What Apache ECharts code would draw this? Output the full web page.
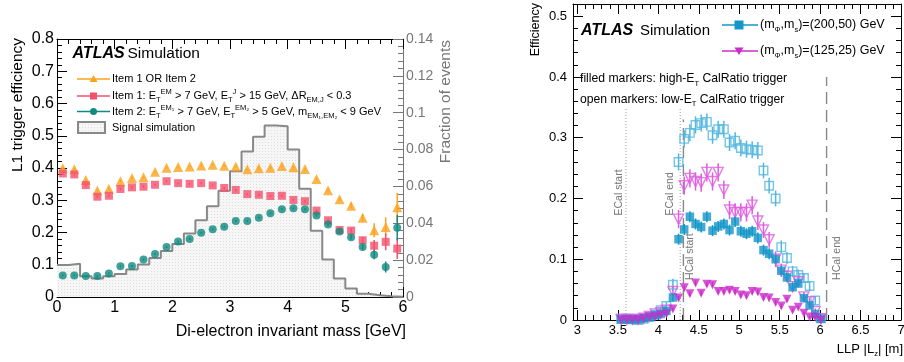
<!DOCTYPE html>
<html>
<head>
<meta charset="utf-8">
<script src="https://cdn.jsdelivr.net/npm/echarts@6.0.0/dist/echarts.min.js"></script>
<style>
  html, body { margin: 0; padding: 0; background: #fff; }
  #chart { width: 904px; height: 362px; }
</style>
</head>
<body>
<div id="chart"></div>
<script>
// ---- left panel: L1 trigger efficiency vs di-electron mass ----
const massCenters = [0.1, 0.3, 0.5, 0.7, 0.9, 1.1, 1.3, 1.5, 1.7, 1.9, 2.1, 2.3, 2.5, 2.7, 2.9,
  3.1, 3.3, 3.5, 3.7, 3.9, 4.1, 4.3, 4.5, 4.7, 4.9, 5.1, 5.3, 5.5, 5.7, 5.9]
const effOr = [0.399, 0.396, 0.363, 0.330, 0.336, 0.359, 0.369, 0.371, 0.388, 0.401, 0.403, 0.405, 0.408, 0.410, 0.407,
  0.405, 0.396, 0.399, 0.401, 0.406, 0.402, 0.397, 0.366, 0.331, 0.303, 0.283, 0.246, 0.207, 0.217, 0.278]
const effOrErr = [0.004, 0.004, 0.004, 0.004, 0.004, 0.004, 0.004, 0.004, 0.003, 0.003, 0.003, 0.003, 0.003, 0.003, 0.003,
  0.003, 0.003, 0.003, 0.003, 0.003, 0.003, 0.004, 0.004, 0.005, 0.006, 0.008, 0.012, 0.022, 0.030, 0.045]
const effItem1 = [0.383, 0.380, 0.347, 0.311, 0.314, 0.335, 0.340, 0.342, 0.348, 0.359, 0.353, 0.351, 0.353, 0.346, 0.338,
  0.332, 0.319, 0.317, 0.313, 0.314, 0.301, 0.297, 0.268, 0.238, 0.208, 0.206, 0.176, 0.159, 0.171, 0.150]
const effItem1Err = [0.004, 0.004, 0.004, 0.004, 0.004, 0.004, 0.004, 0.004, 0.003, 0.003, 0.003, 0.003, 0.003, 0.003, 0.003,
  0.003, 0.003, 0.003, 0.003, 0.003, 0.003, 0.004, 0.004, 0.005, 0.006, 0.007, 0.010, 0.018, 0.026, 0.032]
const effItem2 = [0.067, 0.067, 0.065, 0.065, 0.073, 0.095, 0.096, 0.116, 0.133, 0.155, 0.172, 0.180, 0.199, 0.210, 0.218,
  0.236, 0.236, 0.246, 0.260, 0.272, 0.275, 0.272, 0.253, 0.225, 0.203, 0.185, 0.155, 0.131, 0.093, 0.215]
const effItem2Err = [0.003, 0.003, 0.003, 0.003, 0.003, 0.003, 0.003, 0.003, 0.003, 0.003, 0.003, 0.003, 0.003, 0.003, 0.003,
  0.003, 0.003, 0.003, 0.003, 0.003, 0.003, 0.003, 0.004, 0.005, 0.006, 0.007, 0.008, 0.014, 0.017, 0.039]
const histEdges = [0, 0.2, 0.4, 0.6, 0.8, 1.0, 1.2, 1.4, 1.6, 1.8, 2.0, 2.2, 2.4, 2.6, 2.8, 3.0,
  3.2, 3.4, 3.6, 3.8, 4.0, 4.2, 4.4, 4.6, 4.8, 5.0, 5.2, 5.4, 5.6, 5.8, 6.0]
const histFraction = [0.0173, 0.0180, 0.0113, 0.0100, 0.0113, 0.0125, 0.0149, 0.0176, 0.0212, 0.0249, 0.0287, 0.0345,
  0.0417, 0.0493, 0.0577, 0.0682, 0.0789, 0.0870, 0.0930, 0.0927, 0.0800, 0.0588, 0.0359, 0.0203, 0.0100, 0.0046,
  0.0018, 0.0009, 0.0004, 0.0002]

// ---- right panel: CalRatio efficiency vs LLP |Lz| ----
const llpLz = [3.54, 3.61, 3.68, 3.75, 3.82, 3.89, 3.96, 4.03, 4.10, 4.18, 4.25, 4.32, 4.39, 4.46, 4.53, 4.60, 4.67, 4.74,
  4.81, 4.88, 4.95, 5.02, 5.09, 5.16, 5.23, 5.30, 5.37, 5.45, 5.52, 5.59, 5.66, 5.73, 5.80, 5.87, 5.94, 6.01]
const eff200High = [0.001, 0.001, 0.001, 0.001, 0.003, 0.005, 0.008, 0.010, 0.015, 0.037, 0.133, 0.149, 0.170, 0.158, 0.153,
  0.170, 0.147, 0.154, 0.158, 0.148, 0.162, 0.146, 0.142, 0.146, 0.135, 0.115, 0.109, 0.100, 0.081, 0.070, 0.054, 0.060,
  0.036, 0.024, 0.010, 0.002]
const eff200HighErr = [0.001, 0.001, 0.001, 0.001, 0.002, 0.002, 0.003, 0.003, 0.004, 0.006, 0.009, 0.009, 0.009, 0.009, 0.009,
  0.009, 0.009, 0.009, 0.009, 0.009, 0.009, 0.009, 0.009, 0.009, 0.009, 0.009, 0.009, 0.009, 0.008, 0.007, 0.007, 0.006,
  0.006, 0.005, 0.003, 0.002]
const eff200Low = [0.002, 0.002, 0.001, 0.000, 0.002, 0.005, 0.009, 0.016, 0.023, 0.058, 0.260, 0.298, 0.308, 0.321, 0.324,
  0.326, 0.304, 0.314, 0.314, 0.292, 0.295, 0.283, 0.281, 0.280, 0.279, 0.246, 0.221, 0.200, 0.120, 0.102, 0.080, 0.074,
  0.069, 0.056, 0.032, 0.003]
const eff200LowErr = [0.002, 0.002, 0.002, 0.001, 0.002, 0.003, 0.004, 0.005, 0.006, 0.010, 0.014, 0.014, 0.014, 0.014, 0.014,
  0.014, 0.014, 0.014, 0.014, 0.014, 0.014, 0.014, 0.014, 0.014, 0.014, 0.013, 0.013, 0.013, 0.011, 0.010, 0.009, 0.009,
  0.008, 0.008, 0.007, 0.003]
const eff125High = [0.000, 0.000, 0.000, 0.000, 0.002, 0.005, 0.005, 0.008, 0.010, 0.018, 0.036, 0.053, 0.043, 0.061, 0.044,
  0.059, 0.058, 0.047, 0.047, 0.049, 0.047, 0.041, 0.040, 0.047, 0.046, 0.037, 0.036, 0.029, 0.023, 0.034, 0.016, 0.021,
  0.011, 0.005, 0.004, 0.000]
const eff125HighErr = [0.000, 0.000, 0.000, 0.000, 0.001, 0.002, 0.002, 0.002, 0.003, 0.003, 0.004, 0.004, 0.004, 0.004, 0.004,
  0.004, 0.004, 0.004, 0.004, 0.004, 0.004, 0.004, 0.004, 0.004, 0.004, 0.004, 0.004, 0.004, 0.004, 0.004, 0.003, 0.003,
  0.003, 0.002, 0.002, 0.000]
const eff125Low = [0.001, 0.001, 0.001, 0.001, 0.003, 0.006, 0.010, 0.012, 0.016, 0.047, 0.166, 0.221, 0.233, 0.228, 0.226,
  0.243, 0.228, 0.243, 0.214, 0.181, 0.177, 0.177, 0.177, 0.189, 0.163, 0.148, 0.132, 0.100, 0.082, 0.072, 0.055, 0.063,
  0.038, 0.030, 0.014, 0.002]
const eff125LowErr = [0.001, 0.001, 0.001, 0.001, 0.002, 0.003, 0.004, 0.004, 0.005, 0.008, 0.015, 0.015, 0.015, 0.015, 0.015,
  0.015, 0.015, 0.015, 0.015, 0.015, 0.015, 0.015, 0.015, 0.015, 0.015, 0.013, 0.013, 0.013, 0.011, 0.010, 0.009, 0.009,
  0.008, 0.007, 0.005, 0.002]

const edgeNames = ['ECal start', 'ECal end', 'HCal start', 'HCal end']
const edgePos = [3.60, 4.27, 4.31, 6.08]
const edgeTop = [0.35, 0.35, 0.33, 0.40]
const edgeLabelAt = [0.172, 0.172, 0.066, 0.066]
const edgeLabelDx = [-7, -10, 7, 11]
const edgeDash = [[1, 2], [1, 2], [12, 6], [12, 6]]

const lzMajorTicks = [3, 3.5, 4, 4.5, 5, 5.5, 6, 6.5, 7]
const lzMinorTicks = Array.from({ length: 41 }, (_, i) => 3 + i * 0.1)

const FONT = '"Liberation Sans", Arial, Helvetica, sans-serif'
const C_OR = '#fba31e'
const C_I1 = '#f4506c'
const C_I2 = '#108a80'
const C_B = '#1496c8'
const C_BL = '#52b7e0'
const C_M = '#cc2ccc'
const C_ML = '#e05ce0'

// dotted light-grey fill used by the signal histogram
const pat = document.createElement('canvas')
pat.width = 3; pat.height = 3
const pctx = pat.getContext('2d')
pctx.fillStyle = '#f6f6f6'; pctx.fillRect(0, 0, 3, 3)
pctx.fillStyle = '#dedede'; pctx.fillRect(1, 1, 1, 1)
const dotFill = { image: pat, repeat: 'repeat' }

const fmt = v => String(Math.round(v * 1000) / 1000)

function frameAxis(extra) {
  return Object.assign({
    type: 'value',
    axisLine: { show: true, onZero: false, lineStyle: { color: '#000', width: 1 } },
    axisTick: { show: true, inside: true, length: 10, lineStyle: { color: '#000' } },
    minorTick: { show: true, splitNumber: 5, length: 5, lineStyle: { color: '#000' } },
    axisLabel: { show: false },
    splitLine: { show: false },
    minorSplitLine: { show: false },
  }, extra)
}

function errBars(xs, ys, es, color, xi, yi, width) {
  return {
    type: 'custom', xAxisIndex: xi, yAxisIndex: yi, silent: true, clip: true, z: 3,
    encode: { x: 0, y: 1 },
    data: xs.map((x, i) => [x, ys[i], es[i]]),
    renderItem: (params, api) => {
      const x = api.value(0), y = api.value(1), e = api.value(2)
      const a = api.coord([x, y - e]), b = api.coord([x, y + e])
      return { type: 'line', shape: { x1: a[0], y1: a[1], x2: b[0], y2: b[1] },
        style: { stroke: color, lineWidth: width } }
    },
  }
}

function points(xs, ys, xi, yi, symbol, size, color, open, rotate) {
  return {
    type: 'scatter', xAxisIndex: xi, yAxisIndex: yi, silent: true, z: 4,
    symbol, symbolSize: size, symbolRotate: rotate || 0,
    data: xs.map((x, i) => [x, ys[i]]),
    itemStyle: open
      ? { color: 'rgba(255,255,255,0)', borderColor: color, borderWidth: 1.4 }
      : { color: color, borderWidth: 0 },
  }
}

const sub = { fontSize: 7.5, lineHeight: 9, verticalAlign: 'bottom', fontFamily: FONT }
const sup = { fontSize: 7.5, lineHeight: 9, verticalAlign: 'top', fontFamily: FONT }

function txt(x, y, text, size, extra) {
  return { type: 'text', x, y, silent: true,
    style: Object.assign({ text, fontFamily: FONT, fontSize: size, fill: '#000',
      verticalAlign: 'middle', lineHeight: size + 5, rich: { s: sub, p: sup } }, extra) }
}

const legendLeft = [
  { y: 79, color: C_OR, sym: 'tri', text: 'Item 1 OR Item 2' },
  { y: 96, color: C_I1, sym: 'sq', text: 'Item 1: E{s|T}{p|EM} > 7 GeV, E{s|T}{p|J} > 15 GeV, ΔR{s|EM,J} < 0.3' },
  { y: 111.5, color: C_I2, sym: 'dot', text: 'Item 2: E{s|T}{p|EM₁} > 7 GeV, E{s|T}{p|EM₂} > 5 GeV, m{s|EM₁,EM₂} < 9 GeV' },
]

const graphics = []
legendLeft.forEach(l => {
  graphics.push({ type: 'line', silent: true, shape: { x1: 77, y1: l.y, x2: 110, y2: l.y }, style: { stroke: l.color, lineWidth: 1.5 } })
  if (l.sym === 'tri') graphics.push({ type: 'polygon', silent: true, shape: { points: [[93.5, l.y - 4], [89.5, l.y + 3], [97.5, l.y + 3]] }, style: { fill: l.color } })
  if (l.sym === 'sq') graphics.push({ type: 'rect', silent: true, shape: { x: 90, y: l.y - 3.5, width: 7, height: 7 }, style: { fill: l.color } })
  if (l.sym === 'dot') graphics.push({ type: 'circle', silent: true, shape: { cx: 93.5, cy: l.y, r: 3.5 }, style: { fill: l.color } })
  graphics.push(txt(112, l.y, l.text, 11))
})
graphics.push({ type: 'rect', silent: true, shape: { x: 78, y: 122, width: 27, height: 11 }, style: { fill: dotFill, stroke: '#888', lineWidth: 2 } })
graphics.push(txt(112, 127.5, 'Signal simulation', 11))
graphics.push(txt(72.5, 54, 'ATLAS', 16, { fontWeight: 'bold', fontStyle: 'italic' }))
graphics.push(txt(127.5, 54, 'Simulation', 15.5))
graphics.push(txt(18, 38, 'L1 trigger efficiency', 15.5, { align: 'right' }))
graphics[graphics.length - 1].rotation = Math.PI / 2
graphics.push(txt(446, 40, 'Fraction of events', 15.5, { align: 'right', fill: '#777' }))
graphics[graphics.length - 1].rotation = Math.PI / 2
graphics.push(txt(406, 332, 'Di-electron invariant mass [GeV]', 16, { align: 'right' }))

// right panel texts and legend
graphics.push(txt(581, 31, 'ATLAS', 16, { fontWeight: 'bold', fontStyle: 'italic' }))
graphics.push(txt(640, 31, 'Simulation', 15))
graphics.push({ type: 'line', silent: true, shape: { x1: 722, y1: 25, x2: 758, y2: 25 }, style: { stroke: C_B, lineWidth: 1.5 } })
graphics.push({ type: 'rect', silent: true, shape: { x: 734.5, y: 20.5, width: 9, height: 9 }, style: { fill: C_B } })
graphics.push(txt(760, 25, '(m{s|Φ},m{s|s})=(200,50) GeV', 12.5))
graphics.push({ type: 'line', silent: true, shape: { x1: 722, y1: 51, x2: 758, y2: 51 }, style: { stroke: C_M, lineWidth: 1.5 } })
graphics.push({ type: 'polygon', silent: true, shape: { points: [[734.5, 47.5], [743.5, 47.5], [739, 55]] }, style: { fill: C_M } })
graphics.push(txt(760, 51, '(m{s|Φ},m{s|s})=(125,25) GeV', 12.5))
graphics.push(txt(580, 79, 'filled markers: high-E{s|T} CalRatio trigger', 12.2))
graphics.push(txt(580, 99.5, 'open markers: low-E{s|T} CalRatio trigger', 12.2))
graphics.push(txt(536, 3, 'Efficiency', 12.5, { align: 'right' }))
graphics[graphics.length - 1].rotation = Math.PI / 2
graphics.push(txt(903, 349, 'LLP |L{s|z}| [m]', 13, { align: 'right' }))

const option = {
  animation: false,
  backgroundColor: '#fff',
  textStyle: { fontFamily: FONT },
  grid: [
    { left: 57, top: 39, width: 346, height: 258, containLabel: false, outerBoundsMode: 'none' },
    { left: 573, top: 4, width: 328, height: 316, containLabel: false, outerBoundsMode: 'none' },
  ],
  xAxis: [
    frameAxis({ gridIndex: 0, position: 'bottom', min: 0, max: 6, interval: 1,
      axisLabel: { show: true, fontSize: 16, color: '#000', margin: 3, fontFamily: FONT, formatter: fmt, showMinLabel: true, showMaxLabel: true } }),
    frameAxis({ gridIndex: 0, position: 'top', min: 0, max: 6, interval: 1 }),
    frameAxis({ gridIndex: 1, position: 'bottom', min: 2.945, max: 7, minorTick: { show: false },
      axisTick: { show: true, inside: true, length: 10, customValues: lzMajorTicks, lineStyle: { color: '#000' } },
      axisLabel: { show: true, fontSize: 13, color: '#000', margin: 4, fontFamily: FONT, customValues: lzMajorTicks, formatter: fmt, showMinLabel: true, showMaxLabel: true } }),
    frameAxis({ gridIndex: 1, position: 'bottom', min: 2.945, max: 7, minorTick: { show: false },
      axisLine: { show: false, onZero: false },
      axisTick: { show: true, inside: true, length: 5, customValues: lzMinorTicks, lineStyle: { color: '#000' } } }),
    frameAxis({ gridIndex: 1, position: 'top', min: 2.945, max: 7, minorTick: { show: false },
      axisTick: { show: true, inside: true, length: 10, customValues: lzMajorTicks, lineStyle: { color: '#000' } } }),
    frameAxis({ gridIndex: 1, position: 'top', min: 2.945, max: 7, minorTick: { show: false },
      axisLine: { show: false, onZero: false },
      axisTick: { show: true, inside: true, length: 5, customValues: lzMinorTicks, lineStyle: { color: '#000' } } }),
  ],
  yAxis: [
    frameAxis({ gridIndex: 0, position: 'left', min: 0, max: 0.8, interval: 0.1,
      axisLabel: { show: true, fontSize: 16, color: '#000', margin: 3, fontFamily: FONT, formatter: fmt } }),
    frameAxis({ gridIndex: 0, position: 'right', min: 0, max: 0.14, interval: 0.02,
      axisLine: { show: true, onZero: false, lineStyle: { color: '#777' } },
      axisTick: { show: true, inside: true, length: 10, lineStyle: { color: '#777' } },
      minorTick: { show: true, splitNumber: 5, length: 5, lineStyle: { color: '#777' } },
      axisLabel: { show: true, fontSize: 14, color: '#777', margin: 3, fontFamily: FONT, formatter: fmt } }),
    frameAxis({ gridIndex: 1, position: 'left', min: 0, max: 0.52, interval: 0.1,
      axisLabel: { show: true, fontSize: 13, color: '#000', margin: 6, fontFamily: FONT, formatter: fmt } }),
    frameAxis({ gridIndex: 1, position: 'right', min: 0, max: 0.52, interval: 0.1 }),
  ],
  graphic: graphics,
  series: [
    {
      type: 'line', xAxisIndex: 0, yAxisIndex: 1, step: 'end', symbol: 'none', silent: true, z: 1,
      data: histEdges.map((e, i) => [e, histFraction[Math.min(i, histFraction.length - 1)]]),
      lineStyle: { color: '#888', width: 2 },
      areaStyle: { color: dotFill, opacity: 1 },
    },
    errBars(massCenters, effOr, effOrErr, C_OR, 0, 0, 1.5),
    errBars(massCenters, effItem1, effItem1Err, C_I1, 0, 0, 1.5),
    errBars(massCenters, effItem2, effItem2Err, C_I2, 0, 0, 1.5),
    points(massCenters, effOr, 0, 0, 'triangle', 10, C_OR, false),
    points(massCenters, effItem1, 0, 0, 'rect', 8, C_I1, false),
    points(massCenters, effItem2, 0, 0, 'circle', 8, C_I2, false),
    {
      type: 'custom', xAxisIndex: 2, yAxisIndex: 2, silent: true, clip: true, z: 2,
      encode: { x: 0, y: 1 },
      data: edgePos.map((x, i) => [x, edgeTop[i], edgeLabelAt[i], i]),
      renderItem: (params, api) => {
        const i = api.value(3)
        const base = api.coord([api.value(0), 0])
        const top = api.coord([api.value(0), api.value(1)])
        const lab = api.coord([api.value(0), api.value(2)])
        const hcal = edgeNames[i].indexOf('HCal') === 0
        return {
          type: 'group',
          children: [
            { type: 'line', shape: { x1: base[0], y1: base[1], x2: top[0], y2: top[1] },
              style: { stroke: hcal ? '#888' : '#999', lineWidth: hcal ? 1.4 : 1, lineDash: edgeDash[i] } },
            { type: 'text', x: lab[0] + edgeLabelDx[i], y: lab[1], rotation: Math.PI / 2,
              style: { text: edgeNames[i], fill: '#777', fontSize: 10.5, fontFamily: FONT, align: 'left', verticalAlign: 'middle' } },
          ],
        }
      },
    },
    errBars(llpLz, eff200Low, eff200LowErr, C_BL, 2, 2, 1.5),
    errBars(llpLz, eff125Low, eff125LowErr, C_ML, 2, 2, 1.5),
    errBars(llpLz, eff200High, eff200HighErr, C_B, 2, 2, 1.5),
    errBars(llpLz, eff125High, eff125HighErr, C_M, 2, 2, 1.5),
    points(llpLz, eff200Low, 2, 2, 'rect', 8.5, C_BL, true),
    points(llpLz, eff125Low, 2, 2, 'triangle', 10, C_ML, true, 180),
    points(llpLz, eff200High, 2, 2, 'rect', 8.5, C_B, false),
    points(llpLz, eff125High, 2, 2, 'triangle', 9, C_M, false, 180),
  ],
}

const chart = echarts.init(document.getElementById('chart'), null, { renderer: 'canvas' })
chart.setOption(option)
</script>
</body>
</html>
